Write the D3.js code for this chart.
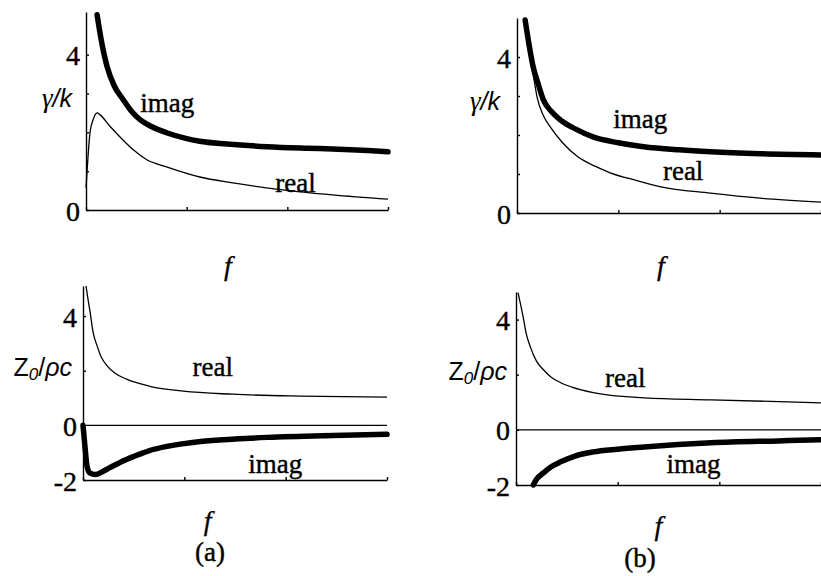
<!DOCTYPE html>
<html>
<head>
<meta charset="utf-8">
<script src="https://cdn.jsdelivr.net/npm/d3@7"></script>
<style>
  html, body { margin: 0; padding: 0; background: #fff; }
  svg { display: block; }
  .word { font-family: "Liberation Serif", "DejaVu Serif", "Times New Roman", serif; font-size: 27px; fill: #000; stroke: #000; stroke-width: 0.4px; }
  .ital { font-family: "Liberation Serif", "DejaVu Serif", serif; font-style: italic; font-size: 28px; stroke: #000; stroke-width: 0.3px; }
  .tick text { font-family: "Liberation Serif", "DejaVu Serif", "Times New Roman", serif; font-size: 28px; }
  .ylab { font-family: "Liberation Sans", Arial, sans-serif; font-size: 25px; }
</style>
</head>
<body>
<div id="chart"></div>
<script>
// frequency is in arbitrary units, axis runs 0..3 with ticks at each unit
const xTicks = [0, 1, 2, 3];

// (a) top: propagation constant gamma/k
const gammaA_imag = [[0.11,5.03],[0.15,4.4],[0.21,3.69],[0.28,3.2],[0.37,2.84],[0.45,2.55],[0.54,2.32],[0.65,2.15],[0.8,1.99],[1.0,1.84],[1.13,1.77],[1.4,1.7],[1.8,1.63],[2.2,1.59],[2.45,1.57],[2.8,1.53],[3.0,1.5]];
const gammaA_real = [[0,0.57],[0.02,1.37],[0.04,2.0],[0.07,2.32],[0.11,2.5],[0.14,2.45],[0.24,2.15],[0.35,1.85],[0.47,1.55],[0.6,1.3],[0.8,1.11],[1.13,0.85],[1.46,0.7],[1.95,0.52],[2.45,0.39],[3.0,0.28]];

// (b) top
const gammaB_imag = [[0.08,4.95],[0.12,4.3],[0.16,3.74],[0.21,3.3],[0.26,2.9],[0.34,2.6],[0.43,2.38],[0.58,2.15],[0.75,1.95],[1.0,1.8],[1.25,1.7],[1.6,1.62],[1.91,1.57],[2.4,1.52],[3.0,1.49]];
const gammaB_real = [[0.08,4.95],[0.12,4.2],[0.16,3.55],[0.2,2.95],[0.26,2.5],[0.33,2.2],[0.45,1.8],[0.6,1.44],[0.77,1.2],[0.92,1.03],[1.2,0.82],[1.42,0.67],[1.91,0.51],[2.4,0.38],[3.0,0.28]];

// (a) bottom: characteristic impedance Z0/rho c
const zA_real = [[0.03,5.1],[0.05,4.6],[0.07,4.15],[0.1,3.4],[0.14,2.9],[0.18,2.5],[0.24,2.17],[0.32,1.9],[0.43,1.69],[0.66,1.43],[0.99,1.25],[1.48,1.14],[2.14,1.07],[3.0,1.03]];
const zA_imag = [[0.0,0],[0.02,-0.8],[0.04,-1.5],[0.07,-1.75],[0.12,-1.8],[0.2,-1.68],[0.27,-1.54],[0.38,-1.33],[0.5,-1.14],[0.65,-0.93],[0.83,-0.77],[1.16,-0.59],[1.5,-0.5],[1.82,-0.44],[2.47,-0.37],[3.0,-0.33]];

// (b) bottom
const zB_real = [[0.02,4.98],[0.07,4.1],[0.1,3.5],[0.14,3.02],[0.2,2.5],[0.27,2.18],[0.35,1.9],[0.44,1.71],[0.55,1.55],[0.76,1.35],[1.26,1.16],[1.92,1.09],[3.0,0.98]];
const zB_imag = [[0.17,-2.0],[0.2,-1.8],[0.27,-1.56],[0.35,-1.33],[0.44,-1.16],[0.58,-0.95],[0.76,-0.8],[1.0,-0.7],[1.26,-0.62],[1.92,-0.47],[2.58,-0.4],[3.0,-0.36]];

const width = 821, height = 576;

const svg = d3.select("#chart").append("svg")
    .attr("width", width)
    .attr("height", height);

// panel layout (pixels) and the text placed in data coordinates
const panels = [
  { left: 86, right: 388, top: 12, bottom: 210, yDomain: [0, 5.1], yTicks: [0,1,2,3,4], yLabels: [0,4],
    thick: gammaA_imag, thin: gammaA_real, zero: false, ylab: "gamma", ylabY: 2.65, ylabGap: 14,
    words: [["imag", 0.54, 2.52], ["real", 1.88, 0.46]], fX: 1.41, fGap: 65 },
  { left: 517, right: 821, top: 18, bottom: 213, yDomain: [0, 5.0], yTicks: [0,1,2,3,4], yLabels: [0,4],
    thick: gammaB_imag, thin: gammaB_real, zero: false, ylab: "gamma", ylabY: 2.64, ylabGap: 17,
    words: [["imag", 0.95, 2.18], ["real", 1.44, 0.85]], fX: 1.42, fGap: 62 },
  { left: 83, right: 387, top: 286, bottom: 480, yDomain: [-2, 5.1], yTicks: [-2,0,2,4], yLabels: [-2,0,4],
    thick: zA_imag, thin: zA_real, zero: true, ylab: "z", ylabY: 1.8, ylabGap: 11,
    words: [["real", 1.08, 1.8], ["imag", 1.63, -1.73]], fX: 1.23, fGap: 50, tag: "(a)", tagX: 210, tagY: 561 },
  { left: 516, right: 821, top: 292, bottom: 485, yDomain: [-2, 5.0], yTicks: [-2,0,2,4], yLabels: [-2,0,4],
    thick: zB_imag, thin: zB_real, zero: true, ylab: "z", ylabY: 1.8, ylabGap: 9,
    words: [["real", 0.875, 1.56], ["imag", 1.48, -1.56]], fX: 1.40, fGap: 50, tag: "(b)", tagX: 640, tagY: 567 }
];

panels.forEach(p => {
  const x = d3.scaleLinear().domain([0, 3]).range([p.left, p.right]);
  const y = d3.scaleLinear().domain(p.yDomain).range([p.bottom, p.top]);
  const g = svg.append("g");

  const line = d3.line()
      .x(d => x(d[0]))
      .y(d => y(d[1]))
      .curve(d3.curveMonotoneX);

  // zero reference line
  if (p.zero) {
    g.append("line")
      .attr("x1", p.left).attr("x2", p.right)
      .attr("y1", y(0)).attr("y2", y(0))
      .attr("stroke", "#000").attr("stroke-width", 1.2);
  }

  // x axis along the bottom, short inward ticks and no labels
  g.append("g")
    .attr("transform", `translate(0,${p.bottom})`)
    .call(d3.axisBottom(x).tickValues(xTicks).tickSizeInner(-3).tickSizeOuter(0).tickFormat(""))
    .call(a => a.selectAll("path, line").attr("stroke", "#000").attr("stroke-width", 1.4));

  // y axis with inward ticks
  g.append("g")
    .attr("transform", `translate(${p.left},0)`)
    .call(d3.axisLeft(y).tickValues(p.yTicks).tickSizeInner(-3).tickSizeOuter(0).tickPadding(6)
      .tickFormat(d => p.yLabels.includes(d) ? String(d) : ""))
    .call(a => a.selectAll("path, line").attr("stroke", "#000").attr("stroke-width", 1.4))
    .call(a => a.selectAll("text").attr("fill", "#000").attr("stroke", "#000").attr("stroke-width", 0.4)
      .attr("dy", "0.36em"));

  // curves
  g.append("path")
    .datum(p.thin)
    .attr("fill", "none")
    .attr("stroke", "#000")
    .attr("stroke-width", 1.3)
    .attr("d", line);

  g.append("path")
    .datum(p.thick)
    .attr("fill", "none")
    .attr("stroke", "#000")
    .attr("stroke-width", 5.5)
    .attr("stroke-linecap", "round")
    .attr("d", line);

  // curve names
  g.selectAll(".word")
    .data(p.words)
    .join("text")
    .attr("class", "word")
    .attr("x", d => x(d[1]))
    .attr("y", d => y(d[2]))
    .text(d => d[0]);

  // y axis title
  const yl = g.append("text")
    .attr("x", p.left - p.ylabGap)
    .attr("y", y(p.ylabY))
    .attr("text-anchor", "end");
  if (p.ylab === "gamma") {
    yl.attr("class", "ylab").attr("font-style", "italic");
    yl.append("tspan").attr("font-family", "Liberation Serif, DejaVu Serif, serif").attr("font-size", 27).text("γ");
    yl.append("tspan").text("/k");
  } else {
    yl.attr("class", "ylab");
    yl.append("tspan").text("Z");
    yl.append("tspan").attr("font-size", 17).attr("font-style", "italic").attr("dy", 4).text("0");
    yl.append("tspan").attr("dy", -4).text("/");
    yl.append("tspan").attr("font-style", "italic").text("ρc");
  }

  // x axis title
  g.append("text")
    .attr("class", "ital")
    .attr("x", x(p.fX))
    .attr("y", p.bottom + p.fGap)
    .attr("text-anchor", "middle")
    .text("f");

  if (p.tag) {
    g.append("text")
      .attr("class", "word")
      .attr("x", p.tagX)
      .attr("y", p.tagY)
      .attr("text-anchor", "middle")
      .text(p.tag);
  }
});
</script>
</body>
</html>
